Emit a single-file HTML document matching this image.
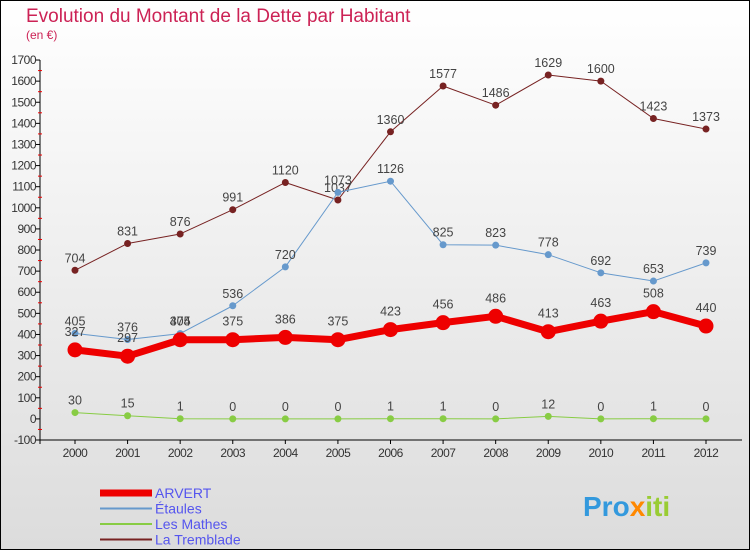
<!DOCTYPE html>
<html><head><meta charset="utf-8"><style>
body{margin:0;width:750px;height:550px;overflow:hidden;font-family:"Liberation Sans",sans-serif}
</style></head><body>
<svg width="750" height="550" xmlns="http://www.w3.org/2000/svg" style="display:block">
<defs>
<linearGradient id="bg" x1="0" y1="0" x2="0" y2="1"><stop offset="0" stop-color="#ffffff"/><stop offset="1" stop-color="#dcdcdc"/></linearGradient>
</defs>
<rect x="0.5" y="0.5" width="749" height="549" fill="url(#bg)" stroke="#000"/>
<text x="26" y="22" font-size="19" fill="#cc2255" font-weight="300">Evolution du Montant de la Dette par Habitant</text>
<text x="26" y="39" font-size="12" fill="#cc2255">(en €)</text>
<g id="axes"></g><g id="series"></g>
<g id="legend"></g>
<text x="583" y="516" font-size="28" font-weight="bold" fill="#3399dd">Pro<tspan fill="#ff8800">x</tspan><tspan fill="#99cc33">iti</tspan></text>
</svg>
<script>
const years=[2000,2001,2002,2003,2004,2005,2006,2007,2008,2009,2010,2011,2012];
const arvert=[327,297,375,375,386,375,423,456,486,413,463,508,440];
const etaules=[405,376,404,536,720,1073,1126,825,823,778,692,653,739];
const mathes=[30,15,1,0,0,0,1,1,0,12,0,1,0];
const tremblade=[704,831,876,991,1120,1037,1360,1577,1486,1629,1600,1423,1373];
const yTicks=[-100,0,100,200,300,400,500,600,700,800,900,1000,1100,1200,1300,1400,1500,1600,1700];
const NS="http://www.w3.org/2000/svg";
const X=i=>75+i*(706-75)/(years.length-1);
const Y=v=>418.9-v*0.2111;
function mk(tag,attrs,parent,txt){const e=document.createElementNS(NS,tag);for(const k in attrs)e.setAttribute(k,attrs[k]);if(txt!==undefined)e.textContent=txt;parent.appendChild(e);return e;}
const ax=document.getElementById('axes');
let a=mk('line',{x1:40,y1:Y(1700),x2:40,y2:Y(-100)+4,stroke:'#000'},ax);

a=mk('line',{x1:40,y1:Y(-100),x2:742,y2:Y(-100),stroke:'#000'},ax);

yTicks.forEach(v=>{
 const t=mk('text',{x:36,y:Y(v)+4,'font-size':12,'text-anchor':'end',fill:'#333','letter-spacing':'-0.5'},ax,String(v));
 
 mk('line',{x1:36,y1:Y(v),x2:40,y2:Y(v),stroke:'#000'},ax);
 if(v<1700){mk('line',{x1:38,y1:Y(v+50),x2:42,y2:Y(v+50),stroke:'#e00'},ax);}
});
years.forEach((yr,i)=>{
 const t=mk('text',{x:X(i),y:Y(-100)+17,'font-size':12,'text-anchor':'middle',fill:'#333','letter-spacing':'-0.5'},ax,String(yr));
 
 mk('line',{x1:X(i),y1:Y(-100),x2:X(i),y2:Y(-100)+4,stroke:'#000'},ax);
});
const sg=document.getElementById('series');
function draw(name,data,color,w,r,labelDy){
 const g=mk('g',{},sg);
 
 const p=mk('polyline',{points:data.map((v,i)=>X(i)+','+Y(v)).join(' '),fill:'none',stroke:color,'stroke-width':w,'stroke-linejoin':'round'},g);
 
 data.forEach((v,i)=>{
  const c=mk('circle',{cx:X(i),cy:Y(v),r:r,fill:color},g);
  
  const t=mk('text',{x:X(i),y:Y(v)-labelDy,'font-size':12.5,'text-anchor':'middle',fill:'#444'},g,String(v));
  
 });
}
draw('la-tremblade',tremblade,'#772222',1,3.5,8);
draw('etaules',etaules,'#6699cc',1,3.5,8);
draw('les-mathes',mathes,'#88cc44',1,3.5,8);
draw('arvert',arvert,'#ee0000',7,7.5,14);
const lg=document.getElementById('legend');
[['ARVERT','#ee0000',7],['Étaules','#6699cc',2],['Les Mathes','#88cc44',2],['La Tremblade','#772222',2]].forEach((d,i)=>{
 const y=493+i*15.5;
 const l=mk('line',{x1:100,y1:y,x2:152,y2:y,stroke:d[1],'stroke-width':d[2]},lg);
 
 const t=mk('text',{x:155,y:y+5,'font-size':14,fill:'#5555ee'},lg,d[0]);
 
});
</script>
</body></html>
